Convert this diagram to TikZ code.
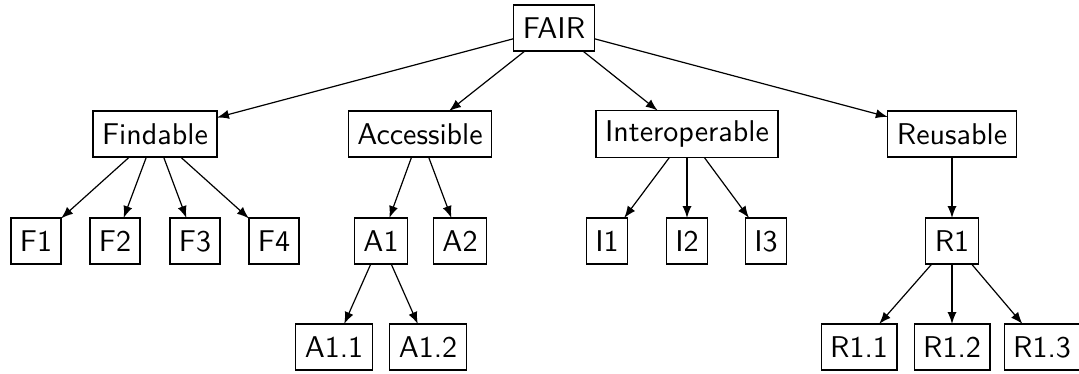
\documentclass[tikz,border=0pt]{standalone}
\usetikzlibrary{arrows}
\tikzset{
	every node/.style={draw,font=\sffamily,minimum height=15.3pt,inner xsep=3pt,outer sep=0pt},
	every path/.style={thin},
}
\begin{document}
\begin{tikzpicture}[x=0.333pt,y=-0.333pt,>=latex]
					\useasboundingbox (0,0) rectangle (1079,374);
					
					% root..........................
					\node (fair) at (554,28) {FAIR};
					
					% principles....................
					\node (find) at (155,134) {Findable};
					\node (acc) at (420,134) {Accessible};
					\node (int) at (687,134) {Interoperable};
					\node (reu) at (952,134) {Reusable};
					
					% sub principles................
					\node (f1) at (36,241) {F1};
					\node (f2) at (115,241) {F2};
					\node (f3) at (195,241) {F3};
					\node (f4) at (274,241) {F4};
					\node (a1) at (381,241) {A1};
					\node (a2) at (460,241) {A2};
					\node (i1) at (607,241) {I1};
					\node (i2) at (687,241) {I2};
					\node (i3) at (766,241) {I3};
					\node (r1) at (952,241) {R1};
					
					% third level...................
					\node (a11) at (334,347) {A1.1};
					\node (a12) at (428,347) {A1.2};
					\node (r11) at (859,347) {R1.1};
					\node (r12) at (952,347) {R1.2};
					\node (r13) at (1042,347) {R1.3};
					
					% arrows from root..............
					\draw [->] (fair) -- (find);
					\draw [->] (fair) -- (acc);
					\draw [->] (fair) -- (int);
					\draw [->] (fair) -- (reu);
					
					% arrows to sub principles......
					\draw [->] (find) -- (f1);
					\draw [->] (find) -- (f2);
					\draw [->] (find) -- (f3);
					\draw [->] (find) -- (f4);
					\draw [->] (acc) -- (a1);
					\draw [->] (acc) -- (a2);
					\draw [->] (int) -- (i1);
					\draw [->] (int) -- (i2);
					\draw [->] (int) -- (i3);
					\draw [->] (reu) -- (r1);
					
					% arrows to third level.........
					\draw [->] (a1) -- (a11);
					\draw [->] (a1) -- (a12);
					\draw [->] (r1) -- (r11);
					\draw [->] (r1) -- (r12);
					\draw [->] (r1) -- (r13);
				\end{tikzpicture}
\end{document}
